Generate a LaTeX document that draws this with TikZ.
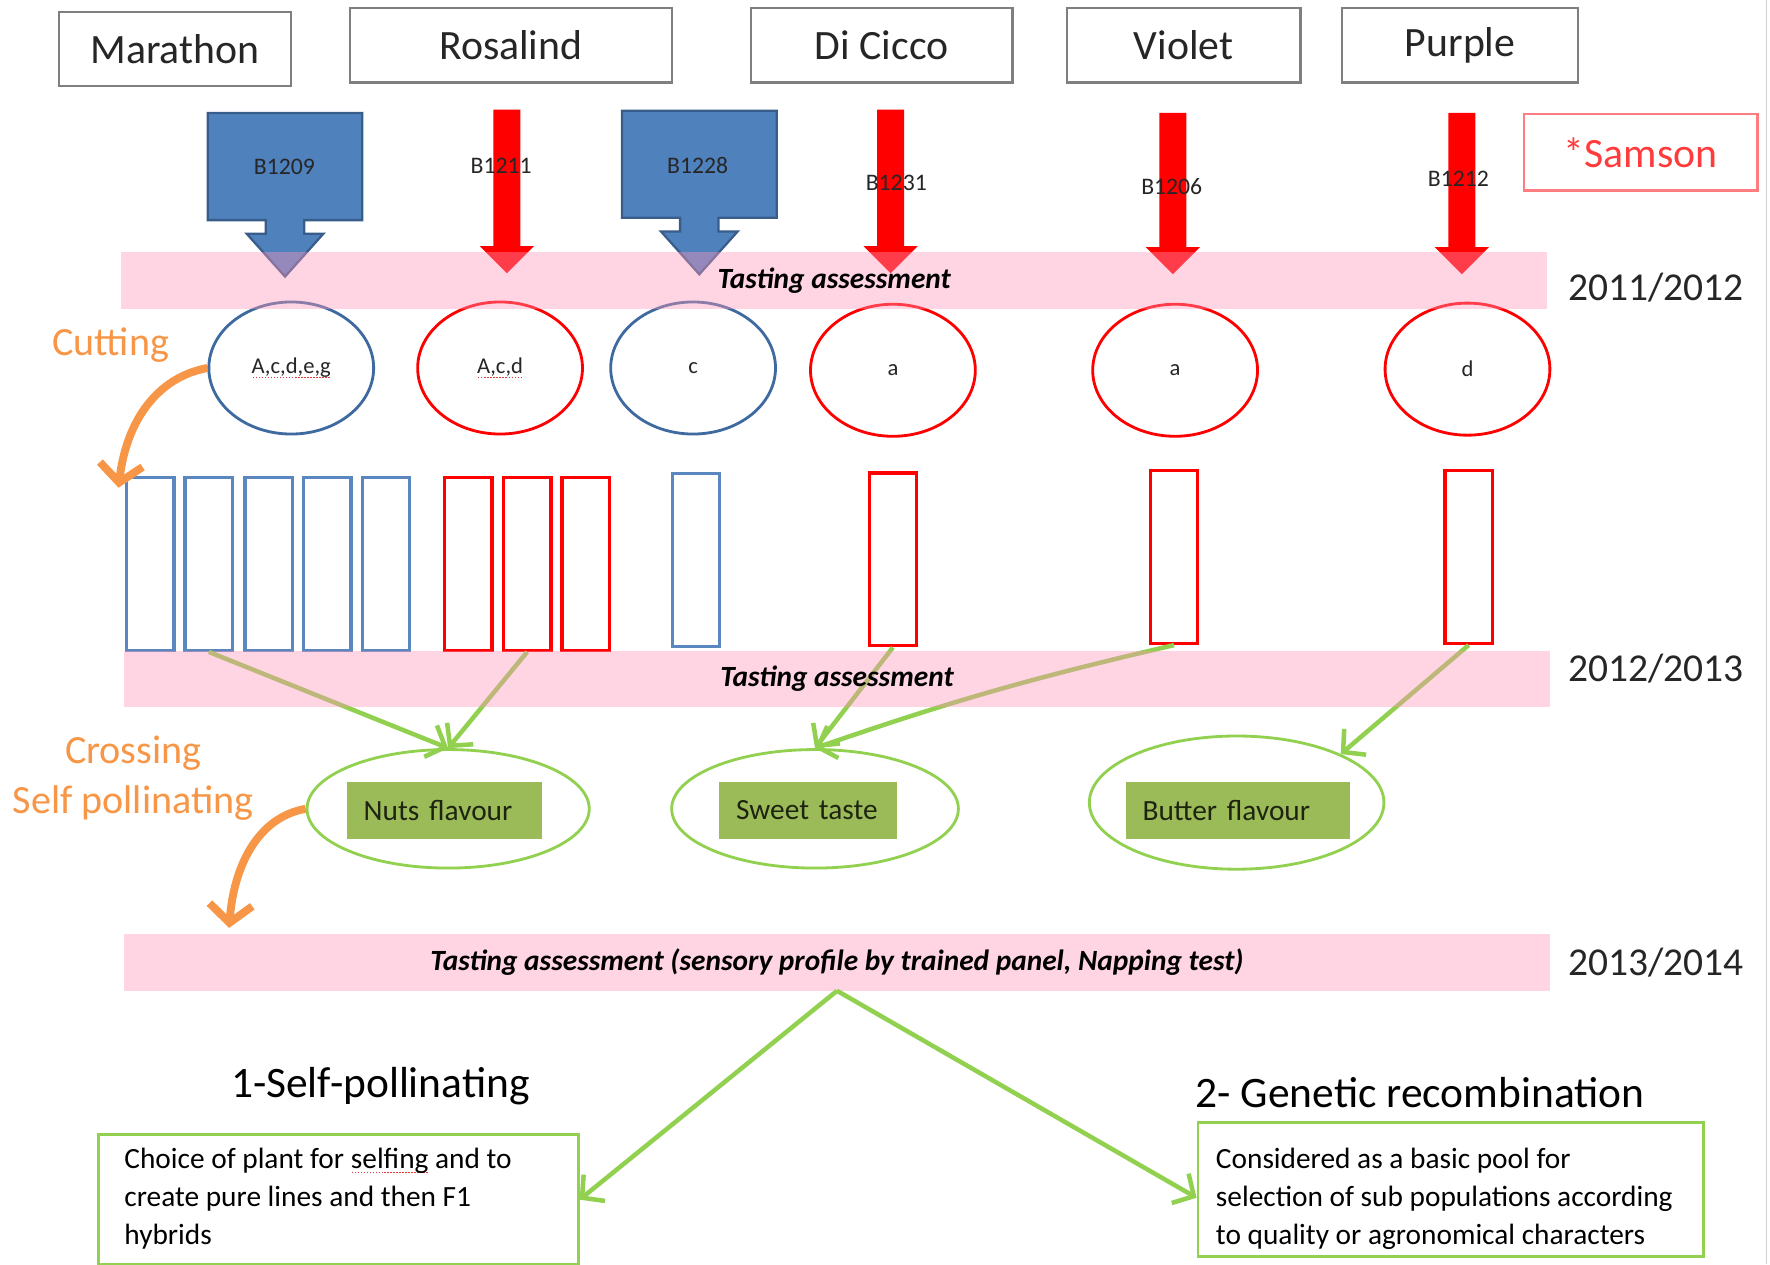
\documentclass[tikz,border=0pt]{standalone}
\usepackage{fontspec}
\setmainfont{Carlito}
\usetikzlibrary{shapes.geometric,arrows.meta,calc}

\definecolor{boxgray}{HTML}{7F7F7F}
\definecolor{txt}{HTML}{262626}
\definecolor{bluefill}{HTML}{4F81BD}
\definecolor{blueedge}{HTML}{385D8A}
\definecolor{blueline}{HTML}{3F6A9F}
\definecolor{lightblue}{HTML}{5B87C0}
\definecolor{bandpink}{HTML}{FF96B9}
\definecolor{leaf}{HTML}{92D050}
\definecolor{olivefill}{HTML}{9BBB59}
\definecolor{labeltext}{HTML}{1F2410}
\definecolor{orangeline}{HTML}{F79646}
\definecolor{samsonedge}{HTML}{FF7C80}
\definecolor{samsontext}{HTML}{FF3B3B}
\definecolor{spellred}{HTML}{E03C3C}

\newcommand\fsz[2]{\fontsize{#1}{#2}\selectfont}
% dotted red underline under a word
\newcommand\spellmark[1]{\setbox0\hbox{#1}\rlap{\textcolor{spellred}{\raisebox{-4pt}{\hbox to\wd0{\xleaders\hbox to 2.6pt{\hss\rule{1.3pt}{1.3pt}\hss}\hfill}}}}\box0\relax}

% blue block arrow with a label box: centre x, top y
\newcommand\blockarrow[2]{%
  \filldraw[fill=bluefill, draw=blueedge, line width=2pt]
    ({#1-68.5},#2) -- ({#1+68.5},#2) -- ({#1+68.5},{#2+95}) -- ({#1+17},{#2+95})
    -- ({#1+17},{#2+107}) -- ({#1+34},{#2+107}) -- (#1,{#2+145}) -- ({#1-34},{#2+107})
    -- ({#1-17},{#2+107}) -- ({#1-17},{#2+95}) -- ({#1-68.5},{#2+95}) -- cycle;}
% thick red arrow: centre x, top y, tip y
\newcommand\redarrow[3]{%
  \fill[red] ({#1-12},#2) -- ({#1+12},#2) -- ({#1+12},{#3-24}) -- ({#1+24},{#3-24})
    -- (#1,#3) -- ({#1-24},{#3-24}) -- ({#1-12},{#3-24}) -- cycle;}

\begin{document}
\begin{tikzpicture}[x=1pt,y=-1pt,
  topbox/.style={draw=boxgray, line width=2pt, fill=white, minimum width=#1,
    minimum height=66, inner sep=0, font=\fsz{37}{44}, text=txt},
  code/.style={font=\fsz{21}{25}, text=txt, inner sep=0},
  plantoval/.style={ellipse, draw=#1, line width=2.5pt, minimum width=146,
    minimum height=117, inner sep=0, font=\fsz{20}{24}, text=txt},
  cutting/.style={draw=#1, line width=3pt, minimum width=42, minimum height=153, inner sep=0},
  band/.style={fill=bandpink, fill opacity=0.4, text opacity=1, minimum width=1263,
    minimum height=50, inner sep=0, font=\fsz{26}{31}\bfseries\itshape, text=black},
  year/.style={font=\fsz{35}{42}, text=txt, inner sep=0},
  traitoval/.style={ellipse, draw=leaf, line width=2.5pt, minimum width=#1,
    minimum height=105, inner sep=0},
  traitlabel/.style={fill=olivefill, minimum height=50, inner xsep=15, inner ysep=0,
    text width=#1, align=left, anchor=west, font=\fsz{26}{30}, text=labeltext},
  growth/.style={draw=leaf, line width=4pt, -{Straight Barb[length=14pt,width=30pt]}},
  orangearrow/.style={draw=orangeline, line width=7pt, -{Straight Barb[length=16pt,width=38pt]}},
  orangetext/.style={font=\fsz{35.5}{42}, text=orangeline, inner sep=0},
  heading/.style={font=\fsz{38.5}{45}, text=black, inner sep=0},
  outcome/.style={draw=leaf, line width=2.5pt, inner sep=0, anchor=north west},
  boxtext/.style={font=\fsz{26}{33.5}, align=left, inner sep=0, text=black, anchor=west}
]
\useasboundingbox (0,0) rectangle (1568,1120);
\fill[white] (0,0) rectangle (1568,1120);
\draw[gray!35, line width=1.5pt] (1565,0) -- (1565,1120);

% varieties
\node[topbox=206] (marathon) at (155,43.5) {Marathon};
\node[topbox=285] (rosalind) at (452.5,40) {Rosalind};
\node[topbox=232] (dicicco) at (781,40) {Di Cicco};
\node[topbox=207] (violet) at (1048.5,40) {Violet};
\node[topbox=209] (purple) at (1293.5,40) {Purple};
\node[draw=samsonedge, line width=2.5pt, minimum width=207, minimum height=68, inner sep=0,
  font=\fsz{37}{44}, text=samsontext] (samson) at (1453.5,135) {*Samson};

% selected plants
\blockarrow{252.5}{100}
\blockarrow{619.5}{98}
\redarrow{449}{97}{242}
\redarrow{789}{97}{242}
\redarrow{1039}{100}{243}
\redarrow{1295}{100}{243}

\node[code] (b1209) at (252,148) {B1209};
\node[code] (b1211) at (444,147) {B1211};
\node[code] (b1228) at (618,147) {B1228};
\node[code] (b1231) at (794,162) {B1231};
\node[code] (b1206) at (1038,165) {B1206};
\node[code] (b1212) at (1292,158) {B1212};

\node[plantoval=blueline] (o1) at (258,326) {\spellmark{A,c,d,e,g}};
\node[plantoval=red] (o2) at (443,326) {\spellmark{A,c,d}};
\node[plantoval=blueline] (o3) at (614,326) {c};
\node[plantoval=red] (o4) at (791,328) {a};
\node[plantoval=red] (o5) at (1041,328) {a};
\node[plantoval=red] (o6) at (1300,327) {d};

% cuttings
\node[cutting=lightblue] (cut1) at (133,499.5) {};
\node[cutting=lightblue] (cut2) at (185,499.5) {};
\node[cutting=lightblue] (cut3) at (238,499.5) {};
\node[cutting=lightblue] (cut4) at (290,499.5) {};
\node[cutting=lightblue] (cut5) at (342,499.5) {};
\node[cutting=red] (cut6) at (415,499.5) {};
\node[cutting=red] (cut7) at (467,499.5) {};
\node[cutting=red] (cut8) at (519,499.5) {};
\node[cutting=lightblue] (cut9) at (616.5,496) {};
\node[cutting=red] (cut10) at (791,495.5) {};
\node[cutting=red] (cut11) at (1040,493.5) {};
\node[cutting=red] (cut12) at (1301,493.5) {};

% flavour groups
\node[traitoval=250] (nuts) at (397,716.5) {};
\node[traitoval=254] (sweet) at (722,716.5) {};
\node[traitoval=261, minimum height=118] (butter) at (1095.5,711) {};
\node[traitlabel=143] (nutslabel) at (307,718) {Nuts flavour};
\node[traitlabel=127] (sweetlabel) at (637,718) {Sweet taste};
\node[traitlabel=169] (butterlabel) at (997,718) {Butter flavour};

\draw[growth] (cut2.south) -- (nuts.north);
\draw[growth] (cut7.south) -- (nuts.north);
\draw[growth] (cut10.south) -- (sweet.north);
\draw[growth] (cut11.south) to[bend right=3] (sweet.north);
\draw[growth] (cut12.south) -- (butter.25);

% tasting seasons
\node[band] (band1) at (739,248.5) {Tasting assessment};
\node[band] (band2) at (741.5,601.5) {Tasting assessment};
\node[band] (band3) at (741.5,852.5) {Tasting assessment (sensory profile by trained panel, Napping test)};
\node[year] (y1) at (1467,255) {2011/2012};
\node[year] (y2) at (1467,592) {2012/2013};
\node[year] (y3) at (1467,853) {2013/2014};

% propagation steps
\node[orangetext] (cuttinglabel) at (98,306) {Cutting};
\node[orangetext] (crossinglabel) at (118,667) {Crossing};
\node[orangetext] (selflabel) at (118,711) {Self pollinating};
\draw[orangearrow] (o1.west) .. controls (140,334) and (112,372) .. (105,432);
\draw[orangearrow] (nuts.west) .. controls (228,724) and (207,768) .. (203,822);

% outcomes
\node[heading] (h1) at (337,962) {1-Self-pollinating};
\node[heading] (h2) at (1258,968) {2- Genetic recombination};
\node[outcome, minimum width=425, minimum height=115] (leftbox) at (86,1004) {};
\node[outcome, minimum width=448, minimum height=119] (rightbox) at (1060,993) {};
\node[boxtext] (lefttext) at (110,1062) {Choice of plant for \spellmark{selfing} and to\\create pure lines and then F1\\hybrids};
\node[boxtext] (righttext) at (1077,1062) {Considered as a basic pool for\\selection of sub populations according\\to quality or agronomical characters};
\coordinate (rightin) at ($(rightbox.north west)!0.56!(rightbox.south west)$);
\draw[growth] (band3.south) -- (leftbox.east);
\draw[growth] (band3.south) -- (rightin);
\end{tikzpicture}
\end{document}
